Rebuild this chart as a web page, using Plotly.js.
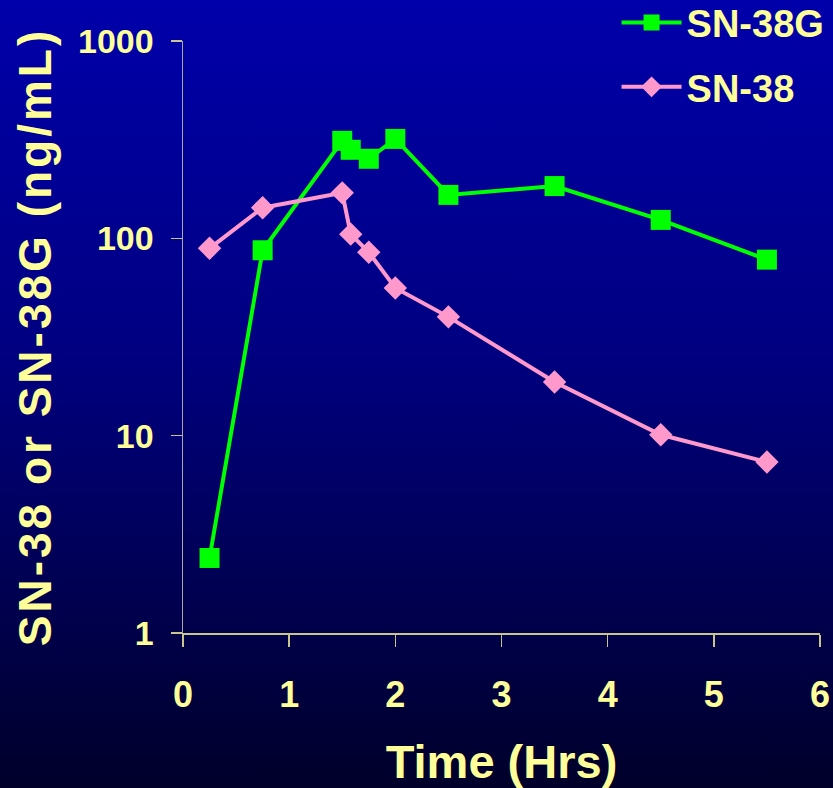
<!DOCTYPE html>
<html>
<head>
<meta charset="utf-8">
<script src="https://cdn.plot.ly/plotly-3.0.1.min.js"></script>
<style>
  html, body { margin: 0; padding: 0; width: 833px; height: 788px; overflow: hidden;
    background: linear-gradient(to bottom, #0000aa 0%, #000080 45%, #00002a 100%); }
  #chart { width: 833px; height: 788px; }
  .ytitle { letter-spacing: 3px; }
</style>
</head>
<body>
<div id="chart"></div>
<script>
// Time points (hours)
const timeHrs = [0.25, 0.75, 1.5, 1.58, 1.75, 2.0, 2.5, 3.5, 4.5, 5.5];
// SN-38G concentrations (ng/mL)
const sn38g = [2.4, 87, 312, 281, 253, 319, 166, 184, 124, 78];
// SN-38 concentrations (ng/mL)
const sn38 = [89, 143, 170, 105, 85, 56, 40, 18.7, 10.1, 7.35];
const yTickVals = [1, 10, 100, 1000];
const yTickText = ['1', '10', '100', '1000'];
const xTickVals = [0, 1, 2, 3, 4, 5, 6];

const yellow = '#ffff99';
const font = 'Arial, "Liberation Sans", sans-serif';

const traces = [
  {
    x: timeHrs, y: sn38g, name: 'SN-38G', type: 'scatter', mode: 'lines+markers',
    line: { color: '#00ff00', width: 4 },
    marker: { symbol: 'square', size: 20, color: '#00ff00' },
    legendgroup: 'a'
  },
  {
    x: timeHrs, y: sn38, name: 'SN-38', type: 'scatter', mode: 'lines+markers',
    line: { color: '#ff99cc', width: 4 },
    marker: { symbol: 'diamond', size: 18, color: '#ff99cc' },
    legendgroup: 'b'
  }
];

const layout = {
  width: 833, height: 788,
  paper_bgcolor: 'rgba(0,0,0,0)', plot_bgcolor: 'rgba(0,0,0,0)',
  margin: { l: 183, r: 13, t: 41, b: 155, autoexpand: false },
  font: { family: font, color: yellow },
  showlegend: true,
  legend: {
    x: 1.015, xanchor: 'right', y: 1.084, yanchor: 'top',
    bgcolor: 'rgba(0,0,0,0)',
    font: { family: font, size: 38, color: yellow, weight: 'bold' },
    tracegroupgap: 12, itemwidth: 60
  },
  xaxis: {
    range: [0, 6], tickvals: xTickVals, ticktext: xTickVals.map(String),
    showgrid: false, zeroline: false, showline: true,
    linecolor: '#c8c48c', linewidth: 1.5,
    ticks: 'outside', ticklen: 12, tickcolor: '#c8c48c', tickwidth: 1.5,
    ticklabelstandoff: 17,
    tickfont: { family: font, size: 36, color: yellow, weight: 'bold' },
    title: { text: 'Time (Hrs)', font: { family: font, size: 47, color: yellow, weight: 'bold' }, standoff: 34 }
  },
  yaxis: {
    type: 'log', range: [0, 3], tickvals: yTickVals, ticktext: yTickText,
    showgrid: false, zeroline: false, showline: true,
    linecolor: '#a8a8a8', linewidth: 1.5,
    ticks: 'outside', ticklen: 11, tickcolor: '#c8c48c', tickwidth: 1.5,
    ticklabelstandoff: 10,
    tickfont: { family: font, size: 34, color: yellow, weight: 'bold' },
    title: { text: 'SN-38 or SN-38G (ng/mL)', font: { family: font, size: 46, color: yellow, weight: 'bold' }, standoff: 12 }
  }
};

Plotly.newPlot('chart', traces, layout, { displayModeBar: false, staticPlot: true });
</script>
</body>
</html>
